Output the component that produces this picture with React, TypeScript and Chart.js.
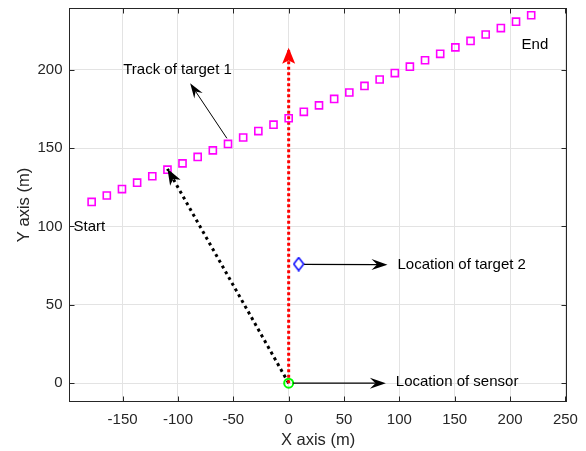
import { useEffect, useRef } from "react";
import { Chart, registerables } from "chart.js";

Chart.register(...registerables);

// ---- data ----
const trackX = [-178, -164.3, -150.6, -136.9, -123.2, -109.5, -95.9, -82.2, -68.5, -54.8, -41.1, -27.4, -13.7, 0, 13.7, 27.4, 41.1, 54.8, 68.5, 82.2, 95.9, 109.5, 123.2, 136.9, 150.6, 164.3, 178, 191.7, 205.4, 219.1];
const trackY = [115.6, 119.7, 123.8, 127.9, 132.0, 136.2, 140.2, 144.3, 148.5, 152.6, 156.7, 160.8, 164.9, 169.0, 173.1, 177.2, 181.3, 185.4, 189.6, 193.7, 197.8, 201.9, 206.0, 210.1, 214.2, 218.3, 222.4, 226.5, 230.6, 234.7];

const sensorX = [0];
const sensorY = [0];
const target2X = [9];
const target2Y = [76];

const redLineX = [0, 0];
const redLineY = [0, 214];
const blackLineX = [0, -109.5];
const blackLineY = [0, 136.7];

const arrowStartX = [-55.8, 14, 4];
const arrowStartY = [156.2, 75.8, 0];
const arrowEndX = [-89, 89.3, 87.8];
const arrowEndY = [191.3, 75.6, 0];

const labelTexts = ["Track of target 1", "Start", "End", "Location of target 2", "Location of sensor"];
const labelX = [-149.5, -194.4, 210.4, 98.3, 96.8];
const labelY = [200, 100, 215.6, 75.3, 0.6];

const xTicks = [-150, -100, -50, 0, 50, 100, 150, 200, 250];
const yTicks = [0, 50, 100, 150, 200];
const xRange = [-198, 251];
const yRange = [-11.7, 239];
const xTitle = "X axis (m)";
const yTitle = "Y axis (m)";

const FONT = "'Liberation Sans', Arial, Helvetica, sans-serif";
const AXIS_COLOR = "#262626";

function pts(xs: number[], ys: number[]) {
  return xs.map((x, i) => ({ x, y: ys[i] }));
}

function drawHead(
  ctx: CanvasRenderingContext2D,
  fx: number, fy: number, tx: number, ty: number,
  L: number, W: number, notch: number, color: string
) {
  const dx = tx - fx, dy = ty - fy;
  const d = Math.hypot(dx, dy) || 1;
  const ux = dx / d, uy = dy / d;
  const nx = -uy, ny = ux;
  ctx.beginPath();
  ctx.moveTo(tx, ty);
  ctx.lineTo(tx - L * ux + (W / 2) * nx, ty - L * uy + (W / 2) * ny);
  ctx.lineTo(tx - notch * L * ux, ty - notch * L * uy);
  ctx.lineTo(tx - L * ux - (W / 2) * nx, ty - L * uy - (W / 2) * ny);
  ctx.closePath();
  ctx.fillStyle = color;
  ctx.fill();
}

const overlayPlugin = {
  id: "overlay",
  afterDatasetsDraw(chart: any) {
    const ctx: CanvasRenderingContext2D = chart.ctx;
    const xs = chart.scales.x;
    const ys = chart.scales.y;
    const px = (v: number) => xs.getPixelForValue(v);
    const py = (v: number) => ys.getPixelForValue(v);
    ctx.save();

    // heads of the dotted lines
    drawHead(ctx, px(redLineX[0]), py(redLineY[0]), px(redLineX[1]), py(redLineY[1]), 16, 13, 0.8, "#ff0000");
    drawHead(ctx, px(blackLineX[0]), py(blackLineY[0]), px(blackLineX[1]), py(blackLineY[1]), 16, 12, 0.72, "#000000");

    // annotation arrows
    for (let i = 0; i < arrowStartX.length; i++) {
      const fx = px(arrowStartX[i]), fy = py(arrowStartY[i]);
      const tx = px(arrowEndX[i]), ty = py(arrowEndY[i]);
      const L = i === 0 ? 15 : 16;
      const W = i === 0 ? 10 : 11;
      const dx = tx - fx, dy = ty - fy;
      const d = Math.hypot(dx, dy);
      const ex = tx - (dx / d) * L * 0.65, ey = ty - (dy / d) * L * 0.65;
      ctx.beginPath();
      ctx.moveTo(fx, fy);
      ctx.lineTo(ex, ey);
      ctx.lineWidth = i === 0 ? 1 : 1.3;
      ctx.strokeStyle = "#000000";
      ctx.setLineDash([]);
      ctx.stroke();
      drawHead(ctx, fx, fy, tx, ty, L, W, 0.65, "#000000");
    }

    // text labels
    ctx.font = `15px ${FONT}`;
    ctx.fillStyle = "#000000";
    ctx.textAlign = "left";
    ctx.textBaseline = "middle";
    for (let i = 0; i < labelTexts.length; i++) {
      ctx.fillText(labelTexts[i], px(labelX[i]), py(labelY[i]));
    }
    ctx.restore();
  },
  afterDraw(chart: any) {
    const ctx: CanvasRenderingContext2D = chart.ctx;
    const { left, right, top, bottom } = chart.chartArea;
    const xs = chart.scales.x;
    const ys = chart.scales.y;
    ctx.save();
    ctx.strokeStyle = AXIS_COLOR;
    ctx.lineWidth = 1;
    ctx.setLineDash([]);
    ctx.strokeRect(left, top, right - left, bottom - top);
    const tl = 5;
    ctx.beginPath();
    xs.ticks.forEach((t: any) => {
      const x = Math.round(xs.getPixelForValue(t.value)) + 0.5;
      ctx.moveTo(x, bottom);
      ctx.lineTo(x, bottom - tl);
      ctx.moveTo(x, top);
      ctx.lineTo(x, top + tl);
    });
    ys.ticks.forEach((t: any) => {
      const y = Math.round(ys.getPixelForValue(t.value)) + 0.5;
      ctx.moveTo(left, y);
      ctx.lineTo(left + tl, y);
      ctx.moveTo(right, y);
      ctx.lineTo(right - tl, y);
    });
    ctx.stroke();
    ctx.restore();
  },
};

export default function App() {
  const ref = useRef<HTMLCanvasElement | null>(null);

  useEffect(() => {
    if (!ref.current) return;

    const diamond = document.createElement("canvas");
    diamond.width = 12;
    diamond.height = 15;
    const dctx = diamond.getContext("2d")!;
    dctx.strokeStyle = "#0000ff";
    dctx.lineWidth = 1.5;
    dctx.beginPath();
    dctx.moveTo(6, 1);
    dctx.lineTo(11, 7.5);
    dctx.lineTo(6, 14);
    dctx.lineTo(1, 7.5);
    dctx.closePath();
    dctx.stroke();

    const chart = new Chart(ref.current, {
      type: "scatter",
      data: {
        datasets: [
          {
            label: "sensor",
            data: pts(sensorX, sensorY),
            pointStyle: "circle",
            pointRadius: 4.5,
            pointBorderWidth: 2,
            pointBorderColor: "#00ff00",
            pointBackgroundColor: "rgba(0,0,0,0)",
            showLine: false,
            order: 0,
          },
          {
            label: "target 2",
            data: pts(target2X, target2Y),
            pointStyle: diamond as any,
            showLine: false,
            order: 1,
          },
          {
            label: "track",
            data: pts(trackX, trackY),
            pointStyle: "rect",
            pointRadius: 5,
            pointBorderWidth: 1.6,
            pointBorderColor: "#ff00ff",
            pointBackgroundColor: "rgba(0,0,0,0)",
            showLine: false,
            order: 2,
          },
          {
            label: "red",
            type: "line",
            data: pts(redLineX, redLineY),
            borderColor: "#ff0000",
            borderWidth: 3,
            borderDash: [3, 2.5],
            pointRadius: 0,
            showLine: true,
            fill: false,
            order: 3,
          } as any,
          {
            label: "black",
            type: "line",
            data: pts(blackLineX, blackLineY),
            borderColor: "#000000",
            borderWidth: 3,
            borderDash: [3, 3.6],
            pointRadius: 0,
            showLine: true,
            fill: false,
            order: 4,
          } as any,
        ],
      },
      options: {
        animation: false,
        responsive: false,
        devicePixelRatio: 1,
        events: [],
        layout: { padding: { top: 8.5, right: 19.5, left: 0, bottom: 0 } },
        plugins: {
          legend: { display: false },
          tooltip: { enabled: false },
        },
        scales: {
          x: {
            type: "linear",
            min: xRange[0],
            max: xRange[1],
            afterBuildTicks: (s: any) => {
              s.ticks = xTicks.map((v) => ({ value: v }));
            },
            afterFit: (s: any) => {
              s.height = 49.5;
              s.paddingLeft = 0;
              s.paddingRight = 0;
              s.paddingTop = 0;
              s.paddingBottom = 0;
            },
            grid: { color: "#e3e3e3", lineWidth: 1, drawTicks: false },
            border: { display: false },
            ticks: {
              padding: 9,
              color: AXIS_COLOR,
              font: { family: FONT, size: 15 },
              maxRotation: 0,
              autoSkip: false,
            },
            title: {
              display: true,
              text: xTitle,
              color: AXIS_COLOR,
              font: { family: FONT, size: 16.5 },
              padding: { top: 0, bottom: 1 },
            },
          },
          y: {
            type: "linear",
            min: yRange[0],
            max: yRange[1],
            afterBuildTicks: (s: any) => {
              s.ticks = yTicks.map((v) => ({ value: v }));
            },
            afterFit: (s: any) => {
              s.width = 69.5;
              s.paddingLeft = 0;
              s.paddingRight = 0;
              s.paddingTop = 0;
              s.paddingBottom = 0;
            },
            grid: { color: "#e3e3e3", lineWidth: 1, drawTicks: false },
            border: { display: false },
            ticks: {
              padding: 7,
              color: AXIS_COLOR,
              font: { family: FONT, size: 15 },
              autoSkip: false,
            },
            title: {
              display: true,
              text: yTitle,
              color: AXIS_COLOR,
              font: { family: FONT, size: 16.5 },
              padding: { top: 15, bottom: 0 },
            },
          },
        },
      },
      plugins: [overlayPlugin],
    });

    return () => chart.destroy();
  }, []);

  return (
    <div style={{ position: "fixed", left: 0, top: 0, width: 586, height: 451, background: "#fff" }}>
      <canvas ref={ref} width={586} height={451} style={{ display: "block" }} />
    </div>
  );
}
